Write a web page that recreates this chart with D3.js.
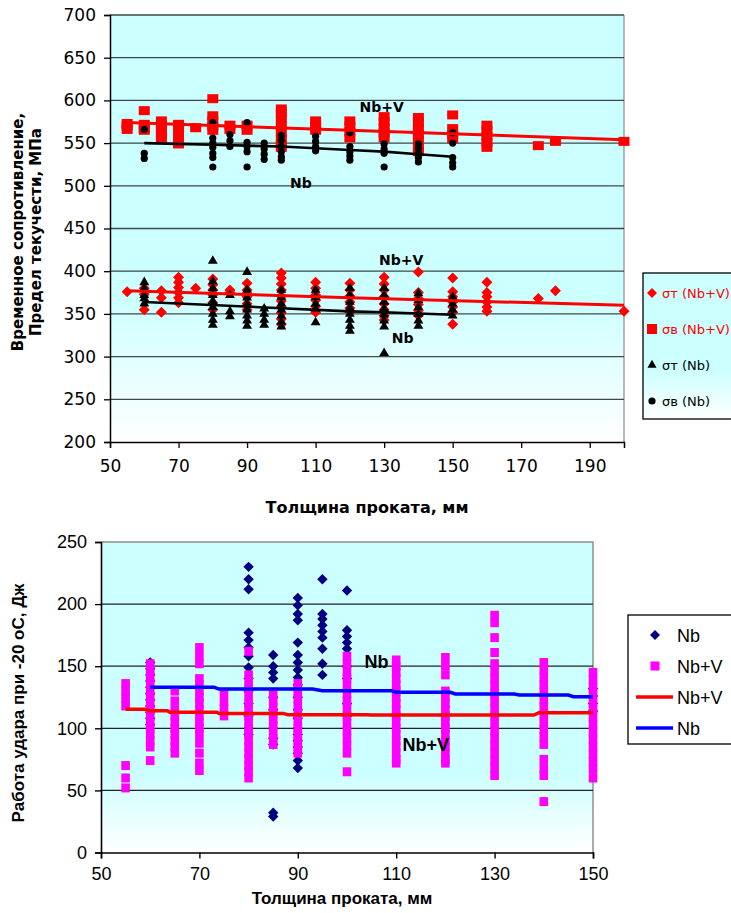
<!DOCTYPE html>
<html>
<head>
<meta charset="utf-8">
<script src="https://cdn.jsdelivr.net/npm/d3@7"></script>
<style>
  body { margin: 0; background: #fff; }
  svg { display: block; }
</style>
</head>
<body>
<div id="chart"></div>
<script>
// ---- data ----

// top chart: strength vs thickness, [thickness, values]
const sigmaT_NbV = [
  [55, [376]], [60, [380, 373, 355]], [65, [377, 369, 352]],
  [70, [393, 387, 381, 375, 369, 363]], [75, [380]],
  [80, [391, 384, 378, 372, 363, 355]], [85, [378, 375]],
  [90, [386, 378, 370, 362, 355]],
  [100, [398, 392, 385, 378, 371, 365, 358, 351, 344, 338]],
  [110, [387, 380, 372, 366, 359, 352]], [120, [386, 378, 371, 364, 357, 352]],
  [130, [393, 385, 378, 370, 362, 355, 348, 343]],
  [140, [399, 375, 368, 361, 354, 348]],
  [150, [392, 376, 370, 364, 358, 352, 338]],
  [160, [387, 375, 370, 364, 358, 353]], [175, [368]], [180, [377]], [200, [353]]
];
const sigmaV_NbV = [
  [55, [566, 570, 573]], [60, [588, 572, 567, 565]], [65, [576, 570, 565, 560, 555]],
  [70, [572, 567, 560, 552, 549]], [75, [568]], [80, [602, 582, 576, 570, 565]],
  [85, [571, 566]], [90, [571, 565]],
  [100, [590, 585, 578, 570, 562, 555, 548, 545]], [110, [576, 570, 565]],
  [120, [576, 570, 563, 556]], [130, [581, 575, 568, 562, 556]],
  [140, [580, 574, 567, 560, 553, 545, 540]], [150, [583, 567, 560, 555]],
  [160, [571, 565, 558, 551, 545]], [175, [547]], [180, [552]], [200, [552]]
];
const sigmaT_Nb = [
  [60, [387, 380, 372, 368, 362]], [80, [412, 388, 380, 372, 365, 358, 350, 343, 337]],
  [85, [372, 353, 347]], [90, [399, 378, 369, 362, 355, 348, 342, 336]],
  [95, [356, 350, 343, 337]], [100, [378, 370, 362, 355, 348, 341, 335]],
  [110, [378, 370, 362, 356, 340]], [120, [380, 372, 364, 357, 350, 343, 336, 330]],
  [130, [380, 372, 364, 356, 349, 342, 335, 304]], [140, [374, 366, 358, 350, 342, 336]],
  [150, [370, 362, 355, 348]]
];
const sigmaV_Nb = [
  [60, [566, 538, 532]], [80, [574, 556, 550, 545, 538, 533, 522]], [85, [560, 553, 546]],
  [90, [574, 551, 546, 540, 522]], [95, [550, 543, 537, 531]],
  [100, [559, 553, 546, 540, 534, 530]], [110, [558, 552, 546, 541]],
  [120, [562, 546, 540, 535, 530]], [130, [549, 543, 538, 522]],
  [140, [549, 544, 538, 533, 528]], [150, [562, 550, 533, 527, 522]]
];
const trendV_NbV = [[55, 574], [120, 565], [200, 554]];
const trendV_Nb = [[60, 550], [80, 548], [90, 547], [100, 546], [120, 542], [130, 540], [140, 537], [150, 534]];
const trendT_NbV = [[55, 377], [120, 369], [200, 360]];
const trendT_Nb = [[60, 364], [120, 353], [130, 352], [150, 349]];

const topXTicks = [50, 70, 90, 110, 130, 150, 170, 190];
const topYTicks = [200, 250, 300, 350, 400, 450, 500, 550, 600, 650, 700];

// bottom chart: impact energy at -20 C
const impactNb = [
  [60, [153, 148, 143, 138, 133, 128, 123, 118, 113, 108, 103]],
  [80, [230, 220, 212, 177, 171, 165, 158, 149, 140, 130, 120, 110, 100, 95]],
  [85, [159, 150, 145, 140, 125, 115, 100, 92, 87, 32, 29]],
  [90, [205, 199, 192, 187, 169, 159, 153, 147, 141, 135, 125, 115, 108, 100, 95, 90, 85, 80, 74, 68]],
  [95, [220, 192, 188, 183, 178, 173, 164, 152, 143]],
  [100, [211, 179, 174, 169, 164, 150, 140, 130, 120, 110]],
  [150, [132, 126, 120, 114]]
];
const impactNbV = [
  [55, [136, 130, 124, 118, 70, 60, 52]],
  [60, [152, 147, 142, 136, 130, 125, 120, 115, 110, 105, 100, 95, 90, 85, 74]],
  [65, [130, 122, 115, 110, 105, 100, 95, 90, 85, 80]],
  [70, [165, 158, 152, 140, 135, 130, 125, 120, 115, 110, 105, 100, 95, 88, 80, 72, 66]],
  [75, [128, 121, 116, 110]],
  [80, [162, 143, 138, 132, 126, 120, 115, 110, 105, 100, 95, 90, 85, 80, 75, 70, 65, 60]],
  [85, [127, 122, 117, 112, 107, 102, 97, 92, 87]],
  [90, [136, 130, 124, 118, 112, 106, 100, 95, 90, 85, 80]],
  [100, [158, 152, 146, 140, 134, 128, 122, 116, 110, 104, 98, 92, 86, 80, 65]],
  [110, [155, 150, 145, 140, 135, 130, 125, 120, 115, 110, 105, 100, 95, 90, 85, 80, 75, 72]],
  [120, [157, 150, 143, 130, 125, 120, 115, 110, 105, 100, 95, 90, 85, 80, 75, 72]],
  [130, [191, 185, 173, 161, 152, 146, 140, 134, 128, 122, 116, 110, 104, 98, 92, 86, 80, 74, 68, 62]],
  [140, [153, 147, 141, 135, 129, 123, 117, 111, 105, 99, 93, 87, 75, 68, 62, 41]],
  [150, [145, 139, 133, 127, 121, 115, 109, 103, 97, 91, 85, 79, 73, 67, 60]]
];
const trendImpactNbV = [[55, 115.3], [59, 115.3], [60, 114.2], [63.5, 114.2], [64, 112.9], [73.5, 112.9],
  [74, 112], [87, 112], [88, 111], [104, 111], [105, 110.7], [138, 110.7], [139, 112.6], [150, 112.6]];
const trendImpactNb = [[60, 133], [73, 133], [74, 131.6], [93, 131.6], [95, 130.3], [109, 130.3],
  [110, 129], [121, 129], [122, 127.6], [134, 127.6], [135, 126.8], [145, 126.8], [146, 125.4], [150, 125.4]];

const botXTicks = [50, 70, 90, 110, 130, 150];
const botYTicks = [0, 50, 100, 150, 200, 250];

// ---- svg ----
const W = 731, H = 913;
const svg = d3.select("#chart").append("svg").attr("width", W).attr("height", H);
const defs = svg.append("defs");

function bgGrad(id, stop) {
  const gr = defs.append("linearGradient").attr("id", id)
    .attr("x1", 0).attr("y1", 0).attr("x2", 0).attr("y2", 1);
  gr.append("stop").attr("offset", 0).attr("stop-color", "#ccffff");
  gr.append("stop").attr("offset", stop).attr("stop-color", "#ccffff");
  gr.append("stop").attr("offset", 1).attr("stop-color", "#ffffff");
}
bgGrad("bgTop", 0.66);
bgGrad("bgBot", 0.74);

const flatten = (series) => series.flatMap(([x, vs]) => vs.map((v) => ({ x, v })));
const diamond = (r) => `M0,${-r}L${r},0L0,${r}L${-r},0Z`;

// ================= top chart =================
const topFont = "'DejaVu Sans', sans-serif";
const x1 = d3.scaleLinear([50, 200], [110, 624]);
const y1 = d3.scaleLinear([200, 700], [442, 15]);

const g1 = svg.append("g");
g1.append("rect").attr("x", x1(50)).attr("y", y1(700))
  .attr("width", x1(200) - x1(50)).attr("height", y1(200) - y1(700))
  .attr("fill", "url(#bgTop)");
g1.append("line").attr("x1", x1(200)).attr("x2", x1(200))
  .attr("y1", y1(700)).attr("y2", y1(200)).attr("stroke", "#a0a0a0").attr("stroke-width", 1.5);

g1.append("g").selectAll("line").data(topYTicks.slice(1)).join("line")
  .attr("x1", x1(50)).attr("x2", x1(200))
  .attr("y1", (d) => y1(d)).attr("y2", (d) => y1(d))
  .attr("stroke", "#3c4a4a").attr("stroke-width", 1.3);

const ax1y = g1.append("g").attr("transform", `translate(${x1(50)},0)`)
  .call(d3.axisLeft(y1).tickValues(topYTicks).tickSize(6).tickPadding(8).tickFormat(d3.format("d")));
const ax1x = g1.append("g").attr("transform", `translate(0,${y1(200)})`)
  .call(d3.axisBottom(x1).tickValues(topXTicks).tickSize(6).tickPadding(12).tickFormat(d3.format("d")));
[ax1y, ax1x].forEach((a) => {
  a.select(".domain").attr("stroke", "#000").attr("stroke-width", 1.5);
  a.selectAll(".tick line").attr("stroke", "#000").attr("stroke-width", 1.3);
  a.selectAll("text").attr("font-family", topFont).attr("font-size", 17).attr("fill", "#000");
});

// markers
g1.append("g").selectAll("path").data(flatten(sigmaT_NbV)).join("path")
  .attr("d", diamond(5.5)).attr("fill", "#ff0000")
  .attr("transform", (d) => `translate(${x1(d.x)},${y1(d.v)})`);
g1.append("g").selectAll("rect").data(flatten(sigmaV_NbV)).join("rect")
  .attr("x", (d) => x1(d.x) - 5.5).attr("y", (d) => y1(d.v) - 4.5)
  .attr("width", 11).attr("height", 9).attr("fill", "#ff0000");
g1.append("g").selectAll("path").data(flatten(sigmaT_Nb)).join("path")
  .attr("d", d3.symbol(d3.symbolTriangle, 42)).attr("fill", "#000")
  .attr("transform", (d) => `translate(${x1(d.x)},${y1(d.v)})`);
g1.append("g").selectAll("circle").data(flatten(sigmaV_Nb)).join("circle")
  .attr("cx", (d) => x1(d.x)).attr("cy", (d) => y1(d.v)).attr("r", 3.6).attr("fill", "#000");

// trend lines
const line1 = d3.line().x((d) => x1(d[0])).y((d) => y1(d[1]));
[[trendV_NbV, "#ff0000", 3], [trendT_NbV, "#ff0000", 3], [trendV_Nb, "#000", 2.6], [trendT_Nb, "#000", 2.6]]
  .forEach(([data, c, w]) => {
    g1.append("path").datum(data).attr("d", line1)
      .attr("fill", "none").attr("stroke", c).attr("stroke-width", w);
  });

// annotations
[["Nb+V", 129.3, 586], ["Nb", 105.7, 497], ["Nb+V", 135, 407], ["Nb", 135.4, 316]].forEach(([t, xv, yv]) => {
  g1.append("text").attr("x", x1(xv)).attr("y", y1(yv)).attr("text-anchor", "middle")
    .attr("font-family", topFont).attr("font-weight", "bold").attr("font-size", 14).text(t);
});

// axis titles
g1.append("text").attr("x", x1(125)).attr("y", 513).attr("text-anchor", "middle")
  .attr("font-family", topFont).attr("font-weight", "bold").attr("font-size", 16)
  .text("Толщина проката, мм");
const yt1 = g1.append("text").attr("transform", "translate(23,232) rotate(-90)")
  .attr("text-anchor", "middle").attr("font-family", topFont).attr("font-weight", "bold").attr("font-size", 15);
yt1.append("tspan").attr("x", 0).attr("dy", 0).text("Временное сопротивление,");
yt1.append("tspan").attr("x", 0).attr("dy", 18).text("Предел текучести, МПа");

// legend
const lg1 = g1.append("g").attr("transform", "translate(643,273)");
lg1.append("rect").attr("width", 110).attr("height", 146)
  .attr("fill", "url(#bgTop)").attr("stroke", "#000").attr("stroke-width", 1.3);
const leg1 = [
  { t: "σт (Nb+V)", c: "#ff0000", m: "diamond" },
  { t: "σв (Nb+V)", c: "#ff0000", m: "square" },
  { t: "σт (Nb)", c: "#000", m: "triangle" },
  { t: "σв (Nb)", c: "#000", m: "circle" }
];
leg1.forEach((d, i) => {
  const gy = 20 + i * 36;
  const gi = lg1.append("g").attr("transform", `translate(9,${gy})`);
  if (d.m === "diamond") gi.append("path").attr("d", diamond(5)).attr("fill", d.c);
  if (d.m === "square") gi.append("rect").attr("x", -5).attr("y", -5).attr("width", 10).attr("height", 10).attr("fill", d.c);
  if (d.m === "triangle") gi.append("path").attr("d", d3.symbol(d3.symbolTriangle, 36)).attr("fill", d.c);
  if (d.m === "circle") gi.append("circle").attr("r", 3.6).attr("fill", d.c);
  gi.append("text").attr("x", 10).attr("y", 5).attr("font-family", topFont)
    .attr("font-size", 13).attr("fill", d.c).text(d.t);
});

// ================= bottom chart =================
const botFont = "'Liberation Sans', Arial, sans-serif";
const x2 = d3.scaleLinear([50, 150], [101, 593]);
const y2 = d3.scaleLinear([0, 250], [852.5, 542]);

const g2 = svg.append("g");
g2.append("rect").attr("x", x2(50)).attr("y", y2(250))
  .attr("width", x2(150) - x2(50)).attr("height", y2(0) - y2(250))
  .attr("fill", "url(#bgBot)");
g2.append("path").attr("d", `M${x2(50)},${y2(250)}H${x2(150)}V${y2(0)}`)
  .attr("fill", "none").attr("stroke", "#909090").attr("stroke-width", 1.5);

g2.append("g").selectAll("line").data(botYTicks.slice(1, -1)).join("line")
  .attr("x1", x2(50)).attr("x2", x2(150))
  .attr("y1", (d) => y2(d)).attr("y2", (d) => y2(d))
  .attr("stroke", "#222").attr("stroke-width", 1.3);

const ax2y = g2.append("g").attr("transform", `translate(${x2(50)},0)`)
  .call(d3.axisLeft(y2).tickValues(botYTicks).tickSize(6).tickPadding(8));
const ax2x = g2.append("g").attr("transform", `translate(0,${y2(0)})`)
  .call(d3.axisBottom(x2).tickValues(botXTicks).tickSize(6).tickPadding(9));
[ax2y, ax2x].forEach((a) => {
  a.select(".domain").attr("stroke", "#000").attr("stroke-width", 1.6);
  a.selectAll(".tick line").attr("stroke", "#000").attr("stroke-width", 1.4);
  a.selectAll("text").attr("font-family", botFont).attr("font-size", 18).attr("fill", "#000");
});

g2.append("g").selectAll("path").data(flatten(impactNb)).join("path")
  .attr("d", diamond(5.2)).attr("fill", "#000080")
  .attr("transform", (d) => `translate(${x2(d.x)},${y2(d.v)})`);
g2.append("g").selectAll("rect").data(flatten(impactNbV)).join("rect")
  .attr("x", (d) => x2(d.x) - 4.3).attr("y", (d) => y2(d.v) - 4.5)
  .attr("width", 8.6).attr("height", 9).attr("fill", "#ff00ff");

const line2 = d3.line().x((d) => x2(d[0])).y((d) => y2(d[1]));
g2.append("path").datum(trendImpactNbV).attr("d", line2)
  .attr("fill", "none").attr("stroke", "#ff0000").attr("stroke-width", 3.5);
g2.append("path").datum(trendImpactNb).attr("d", line2)
  .attr("fill", "none").attr("stroke", "#0000ff").attr("stroke-width", 3.5);

[["Nb", 106, 148.5], ["Nb+V", 116, 81.7]].forEach(([t, xv, yv]) => {
  g2.append("text").attr("x", x2(xv)).attr("y", y2(yv)).attr("text-anchor", "middle")
    .attr("font-family", botFont).attr("font-weight", "bold").attr("font-size", 18).text(t);
});

g2.append("text").attr("x", x2(99)).attr("y", 904).attr("text-anchor", "middle")
  .attr("font-family", botFont).attr("font-weight", "bold").attr("font-size", 17)
  .text("Толщина проката, мм");
g2.append("text").attr("transform", "translate(24,703) rotate(-90)")
  .attr("text-anchor", "middle").attr("font-family", botFont).attr("font-weight", "bold").attr("font-size", 17)
  .text("Работа удара при -20 оС, Дж");

const lg2 = g2.append("g").attr("transform", "translate(628,615)");
lg2.append("rect").attr("width", 110).attr("height", 129)
  .attr("fill", "#fff").attr("stroke", "#000").attr("stroke-width", 1.3);
const leg2 = [
  { t: "Nb", m: "diamond", c: "#000080" },
  { t: "Nb+V", m: "square", c: "#ff00ff" },
  { t: "Nb+V", m: "line", c: "#ff0000" },
  { t: "Nb", m: "line", c: "#0000ff" }
];
leg2.forEach((d, i) => {
  const gi = lg2.append("g").attr("transform", `translate(27,${20 + i * 31})`);
  if (d.m === "diamond") gi.append("path").attr("d", diamond(5)).attr("fill", d.c);
  if (d.m === "square") gi.append("rect").attr("x", -4.5).attr("y", -4.5).attr("width", 9).attr("height", 9).attr("fill", d.c);
  if (d.m === "line") gi.append("line").attr("x1", -19).attr("x2", 18).attr("stroke", d.c).attr("stroke-width", 3.5);
  gi.append("text").attr("x", 22).attr("y", 6.5).attr("font-family", botFont)
    .attr("font-size", 18).attr("fill", "#000").text(d.t);
});
</script>
</body>
</html>
